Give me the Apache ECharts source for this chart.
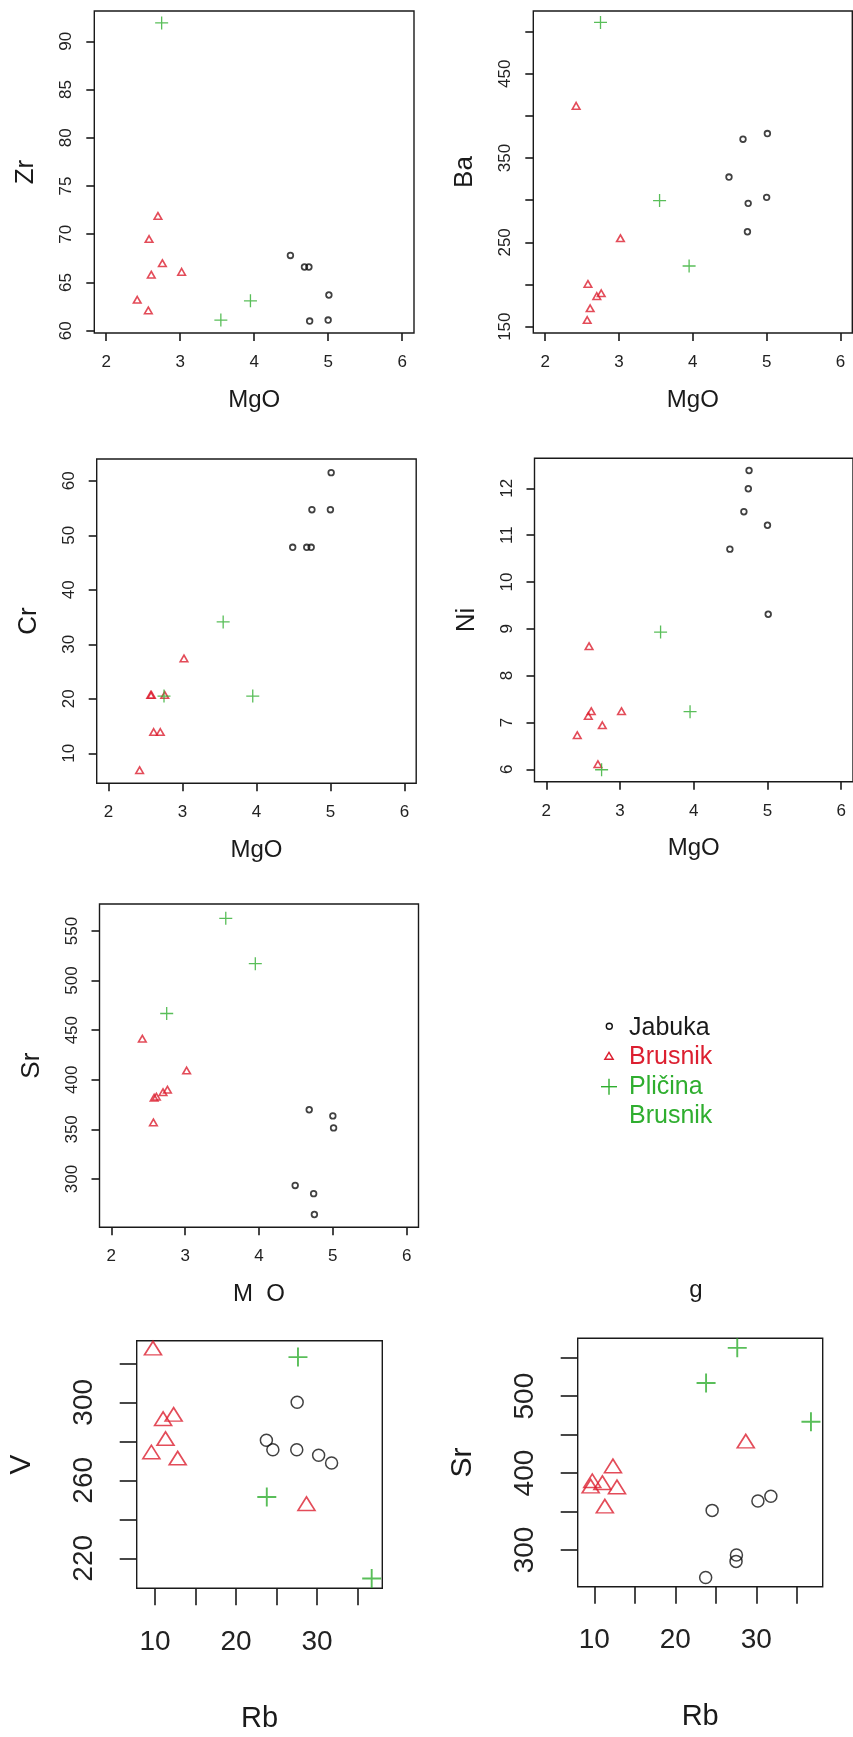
<!DOCTYPE html>
<html>
<head>
<meta charset="utf-8">
<script src="https://cdn.jsdelivr.net/npm/echarts@6/dist/echarts.min.js"></script>
<style>
html,body{margin:0;padding:0;background:#fff;}
#c{width:853px;height:1737px;}
</style>
</head>
<body>
<div id="c"></div>
<script>
// ---------------- DATA ----------------
const groupNames = ['Jabuka', 'Brusnik', 'Pličina Brusnik'];

// Jabuka (circles)
const mgoJabuka = [4.49, 4.68, 4.74, 4.75, 5.00, 5.01];
const zrJabuka  = [67.8, 66.6, 66.6, 61.0, 61.1, 63.7];
const baJabuka  = [327.5, 372.4, 262.6, 296.3, 303.4, 379.1];
const crJabuka  = [47.8, 47.8, 47.8, 54.7, 54.7, 61.5];
const niJabuka  = [10.7, 11.5, 11.99, 12.38, 11.21, 9.31];
const srJabuka  = [293.5, 369.8, 285.2, 264.2, 363.6, 351.5];
const rbJabuka  = [27.55, 31.8, 27.5, 23.75, 30.2, 24.55];
const vJabuka   = [300.0, 268.9, 275.7, 280.5, 272.8, 275.7];

// Brusnik (triangles)
const mgoBrusnik = [2.42, 2.57, 2.58, 2.61, 2.70, 2.76, 3.02];
const zrBrusnik  = [63.2, 62.1, 69.5, 65.8, 71.9, 67.0, 66.1];
const baBrusnik  = [412.0, 157.9, 200.7, 171.8, 186.3, 189.6, 254.9];
const crBrusnik  = [6.9, 20.7, 20.7, 13.9, 13.9, 20.7, 27.4];
const niBrusnik  = [6.73, 7.14, 8.63, 7.24, 6.11, 6.94, 7.24];
const srBrusnik  = [441.5, 357.0, 382.0, 383.0, 387.5, 390.0, 409.3];
const rbBrusnik  = [28.7, 11.3, 12.8, 9.55, 11.0, 9.75, 12.3];
const vBrusnik   = [248.0, 281.4, 271.4, 274.5, 291.6, 327.8, 293.8];

// Pličina Brusnik (crosses)
const mgoPlicina = [2.75, 3.55, 3.95];
const zrPlicina  = [91.9, 61.1, 63.1];
const baPlicina  = [511.0, 299.6, 222.0];
const crPlicina  = [20.5, 34.1, 20.5];
const niPlicina  = [5.99, 8.93, 7.23];
const srPlicina  = [466.8, 562.8, 517.0];
const rbPlicina  = [36.75, 27.65, 23.8];
const vPlicina   = [209.6, 323.2, 251.4];

// Tick values and tick labels
const mgoTicks = [2, 3, 4, 5, 6];
const zrTicks = [60, 65, 70, 75, 80, 85, 90];
const baTicks = [150, 200, 250, 300, 350, 400, 450, 500];
const baTickLabels = [150, 250, 350, 450];
const crTicks = [10, 20, 30, 40, 50, 60];
const niTicks = [6, 7, 8, 9, 10, 11, 12];
const srTicks = [300, 350, 400, 450, 500, 550];
const rbTicks = [10, 15, 20, 25, 30, 35];
const rbTickLabels = [10, 20, 30];
const vTicks = [220, 240, 260, 280, 300, 320];
const vTickLabels = [220, 260, 300];
const srRbTickLabels = [300, 400, 500];

// ---------------- STYLE / LAYOUT ----------------
const FONT = '"Liberation Sans", Arial, Helvetica, sans-serif';
const BLACK = '#111111';
const RED = '#DC1F30';
const GREEN = '#2FAE2F';
const CROSS = 'path://M9,0H11V9H20V11H11V20H9V11H0V9H9Z';

const small = {
  circle: 5.6, circleBW: 1.8, tri: [7.6, 6.6], triBW: 1.6, cross: 13,
  tickLen: 8, labelSize: 17, nameSize: 24, yNameSize: 26,
  xMargin: 21, yMargin: 19, xGap: 55, yGap: 55
};
const big = {
  circle: 12, circleBW: 1.5, tri: [17, 13.5], triBW: 1.6, cross: 19,
  tickLen: 17, labelSize: 28, nameSize: 29, yNameSize: 30,
  xMargin: 40, yMargin: 38, xGap: 116, yGap: 100
};

const panels = [
  { xName: 'MgO', yName: 'Zr', box: [94.3, 11, 319.7, 322], xr: [1.84, 6.16], yr: [59.76, 93.14],
    xT: mgoTicks, xL: mgoTicks, yT: zrTicks, yL: zrTicks, s: small,
    sets: [[mgoJabuka, zrJabuka], [mgoBrusnik, zrBrusnik], [mgoPlicina, zrPlicina]] },
  { xName: 'MgO', yName: 'Ba', box: [533.3, 11, 319, 322], xr: [1.84, 6.16], yr: [142.5, 524.5],
    xT: mgoTicks, xL: mgoTicks, yT: baTicks, yL: baTickLabels, s: small,
    sets: [[mgoJabuka, baJabuka], [mgoBrusnik, baBrusnik], [mgoPlicina, baPlicina]] },
  { xName: 'MgO', yName: 'Cr', box: [96.7, 459, 319.5, 324.3], xr: [1.84, 6.16], yr: [4.5, 64.0],
    xT: mgoTicks, xL: mgoTicks, yT: crTicks, yL: crTicks, s: small,
    sets: [[mgoJabuka, crJabuka], [mgoBrusnik, crBrusnik], [mgoPlicina, crPlicina]] },
  { xName: 'MgO', yName: 'Ni', box: [534.5, 458.3, 319.5, 323.4], xr: [1.84, 6.16], yr: [5.735, 12.64],
    xT: mgoTicks, xL: mgoTicks, yT: niTicks, yL: niTicks, s: small,
    sets: [[mgoJabuka, niJabuka], [mgoBrusnik, niBrusnik], [mgoPlicina, niPlicina]] },
  { xName: 'M  O', yName: 'Sr', box: [99.5, 904, 319, 323.3], xr: [1.84, 6.16], yr: [251.3, 577.2],
    xT: mgoTicks, xL: mgoTicks, yT: srTicks, yL: srTicks, s: small,
    sets: [[mgoJabuka, srJabuka], [mgoBrusnik, srBrusnik], [mgoPlicina, srPlicina]] },
  { xName: 'Rb', yName: 'V', box: [136.7, 1340.7, 245.6, 247.6], xr: [7.74, 38.06], yr: [204.6, 331.6],
    xT: rbTicks, xL: rbTickLabels, yT: vTicks, yL: vTickLabels, s: big,
    sets: [[rbJabuka, vJabuka], [rbBrusnik, vBrusnik], [rbPlicina, vPlicina]] },
  { xName: 'Rb', yName: 'Sr', box: [577.7, 1338.3, 245, 248.4], xr: [7.95, 38.2], yr: [252.3, 575.2],
    xT: rbTicks, xL: rbTickLabels, yT: srTicks, yL: srRbTickLabels, s: big,
    sets: [[rbJabuka, srJabuka], [rbBrusnik, srBrusnik], [rbPlicina, srPlicina]] }
];

const grid = [], xAxis = [], yAxis = [], series = [];

panels.forEach((p, i) => {
  const s = p.s;
  grid.push({
    left: p.box[0], top: p.box[1], width: p.box[2], height: p.box[3],
    show: true, borderColor: '#1a1a1a', borderWidth: 1.4, backgroundColor: 'transparent',
    containLabel: false
  });
  const tickStyle = { show: true, inside: false, length: s.tickLen,
    lineStyle: { color: '#1a1a1a', width: 1.6 } };
  xAxis.push({
    type: 'value', gridIndex: i, min: p.xr[0], max: p.xr[1],
    axisLine: { show: false },
    axisTick: Object.assign({ customValues: p.xT }, tickStyle),
    axisLabel: { customValues: p.xL, fontSize: s.labelSize, fontFamily: FONT, color: '#222', margin: s.xMargin },
    splitLine: { show: false },
    name: p.xName, nameLocation: 'middle', nameGap: s.xGap,
    nameTextStyle: { fontSize: s.nameSize, fontFamily: FONT, color: '#1a1a1a' }
  });
  yAxis.push({
    type: 'value', gridIndex: i, min: p.yr[0], max: p.yr[1],
    axisLine: { show: false },
    axisTick: Object.assign({ customValues: p.yT }, tickStyle),
    axisLabel: { customValues: p.yL, rotate: 90, fontSize: s.labelSize, fontFamily: FONT, color: '#222', margin: s.yMargin },
    splitLine: { show: false },
    name: p.yName, nameLocation: 'middle', nameGap: s.yGap,
    nameTextStyle: { fontSize: s.yNameSize, fontFamily: FONT, color: '#1a1a1a' }
  });
  const styles = [
    { symbol: 'circle', symbolSize: s.circle,
      itemStyle: { color: 'rgba(0,0,0,0)', borderColor: BLACK, borderWidth: s.circleBW } },
    { symbol: 'triangle', symbolSize: s.tri,
      itemStyle: { color: 'rgba(0,0,0,0)', borderColor: RED, borderWidth: s.triBW } },
    { symbol: CROSS, symbolSize: s.cross,
      itemStyle: { color: GREEN, borderWidth: 0 } }
  ];
  p.sets.forEach((set, g) => {
    const xs = set[0], ys = set[1];
    series.push(Object.assign({
      type: 'scatter', name: groupNames[g], xAxisIndex: i, yAxisIndex: i,
      data: xs.map((x, k) => [x, ys[k]]),
      clip: false, silent: true, emphasis: { disabled: true }
    }, styles[g]));
  });
});

// legend + stray label fragments of the composite image
const legendFont = '25px ' + FONT;
const graphic = [
  { type: 'circle', shape: { cx: 609.3, cy: 1026.3, r: 3 }, style: { fill: 'none', stroke: BLACK, lineWidth: 1.4 } },
  { type: 'polygon', shape: { points: [[604.8, 1059.3], [613.2, 1059.3], [609, 1052.3]] }, style: { fill: 'none', stroke: RED, lineWidth: 1.4 } },
  { type: 'line', shape: { x1: 601, y1: 1086.7, x2: 617, y2: 1086.7 }, style: { stroke: GREEN, lineWidth: 1.4 } },
  { type: 'line', shape: { x1: 609, y1: 1078.7, x2: 609, y2: 1094.7 }, style: { stroke: GREEN, lineWidth: 1.4 } },
  { type: 'text', x: 629, y: 1028, style: { text: groupNames[0], font: legendFont, fill: '#1a1a1a', verticalAlign: 'middle' } },
  { type: 'text', x: 629, y: 1057, style: { text: groupNames[1], font: legendFont, fill: RED, verticalAlign: 'middle' } },
  { type: 'text', x: 629, y: 1087, style: { text: 'Pličina', font: legendFont, fill: GREEN, verticalAlign: 'middle' } },
  { type: 'text', x: 629, y: 1116, style: { text: 'Brusnik', font: legendFont, fill: GREEN, verticalAlign: 'middle' } },
  { type: 'text', x: 696, y: 1290, style: { text: 'g', font: '24px ' + FONT, fill: '#1a1a1a', align: 'center', verticalAlign: 'middle' } }
];

const chart = echarts.init(document.getElementById('c'), null, { renderer: 'canvas' });
chart.setOption({
  animation: false,
  backgroundColor: '#ffffff',
  textStyle: { fontFamily: FONT },
  grid: grid,
  xAxis: xAxis,
  yAxis: yAxis,
  series: series,
  graphic: graphic
});
</script>
</body>
</html>
